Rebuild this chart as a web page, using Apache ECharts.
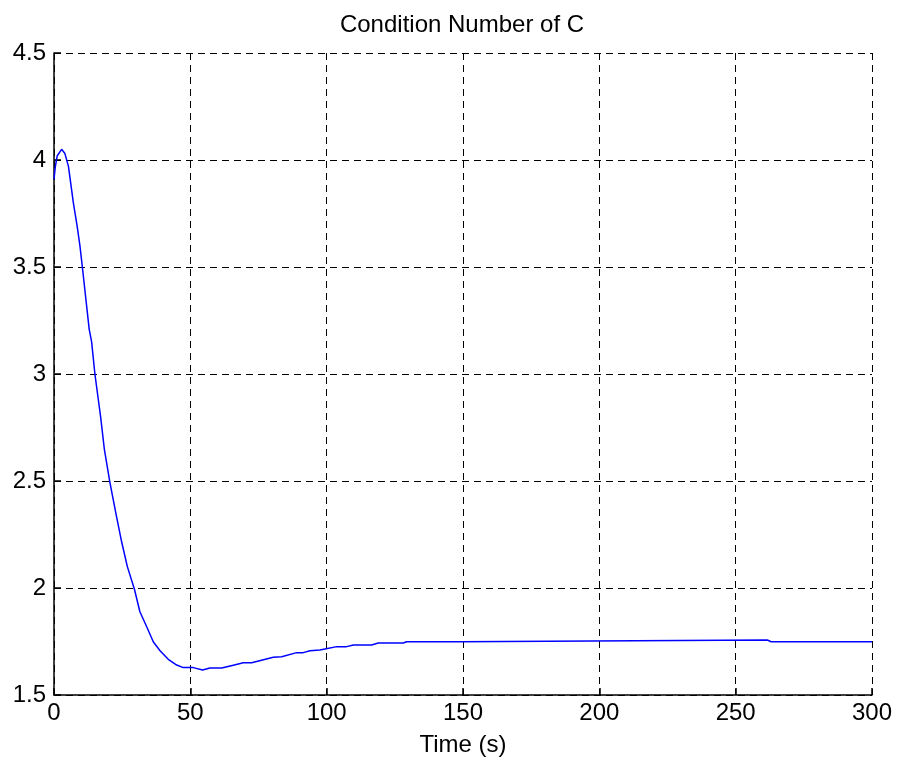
<!DOCTYPE html>
<html>
<head>
<meta charset="utf-8">
<script src="https://cdn.jsdelivr.net/npm/echarts@6/dist/echarts.min.js"></script>
<style>
html,body{margin:0;padding:0;background:#fff;}
#c{width:898px;height:764px;}
</style>
</head>
<body>
<div id="c"></div>
<script>
var titleText = 'Condition Number of C';
var xLabel = 'Time (s)';
var times = [0, 0.5, 1.2, 2.8, 4, 5.3, 7.1, 8.5, 9.5, 10.4, 12.9, 13.8, 15, 17.1, 18.5, 20.5, 22.7, 24.8, 26.9, 29.5, 31.5, 34, 36.4, 38.9, 41.9, 45, 47.4, 51.1, 54.5, 57.2, 61.5, 65, 69.4, 72.5, 80.4, 83.5, 89, 91.4, 93.9, 97.5, 99.4, 103.7, 107.3, 109.8, 116.5, 118.9, 128.1, 129.3, 148.9, 149.5, 261.6, 263, 300];
var values = [3.91, 3.97, 4.02, 4.05, 4.03, 3.97, 3.80, 3.69, 3.60, 3.50, 3.21, 3.15, 3.00, 2.80, 2.645, 2.494, 2.349, 2.216, 2.10, 1.994, 1.889, 1.819, 1.749, 1.707, 1.667, 1.640, 1.628, 1.628, 1.617, 1.626, 1.626, 1.637, 1.651, 1.651, 1.676, 1.679, 1.698, 1.698, 1.707, 1.710, 1.715, 1.726, 1.726, 1.734, 1.734, 1.743, 1.743, 1.749, 1.749, 1.757, 1.757, 1.749, 1.749];

var data = times.map(function (t, i) { return [t, values[i]]; });
var font = 'Liberation Sans, Arial, Helvetica, sans-serif';
var chart = echarts.init(document.getElementById('c'));
var gridLine = { show: true, lineStyle: { color: '#000', type: [7, 5], width: 1 } };
chart.setOption({
  animation: false,
  title: {
    text: titleText, left: 457, top: 8, textAlign: 'center',
    textStyle: { fontFamily: font, fontSize: 24, fontWeight: 'normal', color: '#000' }
  },
  grid: { left: 54, right: 26, top: 53, bottom: 69, containLabel: false },
  xAxis: {
    type: 'value', min: 0, max: 300, interval: 50,
    name: xLabel, nameLocation: 'middle', nameGap: 38,
    nameTextStyle: { fontFamily: font, fontSize: 24, color: '#000' },
    axisLine: { show: true, onZero: false, lineStyle: { color: '#000', width: 1.5 } },
    axisTick: { show: true, inside: true, length: 7, lineStyle: { color: '#000', width: 1.5 } },
    axisLabel: { fontFamily: font, fontSize: 24, color: '#000', margin: 6 },
    splitLine: gridLine
  },
  yAxis: {
    type: 'value', min: 1.5, max: 4.5, interval: 0.5,
    axisLine: { show: true, onZero: false, lineStyle: { color: '#000', width: 1.5 } },
    axisTick: { show: true, inside: true, length: 7, lineStyle: { color: '#000', width: 1.5 } },
    axisLabel: { fontFamily: font, fontSize: 24, color: '#000', margin: 8 },
    splitLine: gridLine
  },
  series: [{
    type: 'line', data: data, showSymbol: false, symbol: 'none',
    lineStyle: { color: '#0000ff', width: 1.5 }, z: 5
  }]
});
</script>
</body>
</html>
